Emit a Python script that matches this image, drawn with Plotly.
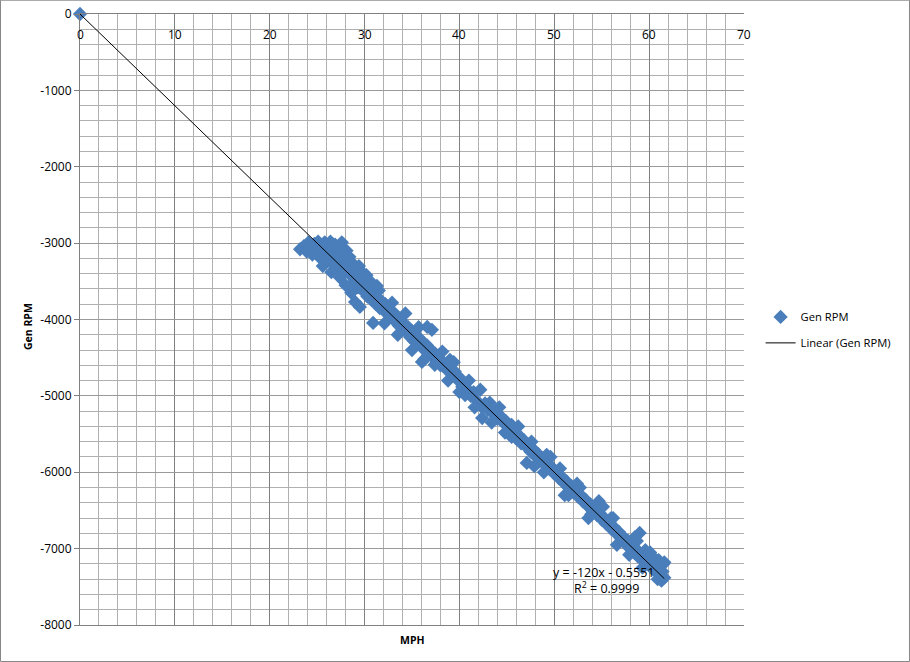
import plotly.graph_objects as go

# ---- data ----
mph = [
    0.0,
    23.2, 23.6, 23.9, 24.1, 24.3, 24.5, 24.7, 24.9, 25.1, 25.2, 25.4, 25.6, 25.8, 25.9,
    26.1, 26.3, 26.4, 26.6, 26.7, 26.9, 27.0, 27.2, 27.3, 27.5, 27.6, 27.8, 27.9, 28.1,
    28.2, 28.4, 28.5, 28.7, 28.8, 29.0, 29.1, 29.3, 29.4, 29.6, 29.8, 29.9,
    30.2, 30.6, 31.0, 31.5, 29.0, 29.5, 30.9,
    27.4, 28.0, 28.6, 26.5, 25.6,
    30.0, 30.3, 30.5, 30.8, 31.0, 31.2, 31.4, 31.6, 31.8, 32.0, 32.2, 32.4, 32.6, 32.8,
    33.0, 33.2, 33.4, 33.6, 33.8, 34.0, 34.2, 34.4, 34.6, 34.8, 35.0, 35.2, 35.4, 35.6,
    35.8, 36.0, 36.2, 36.4, 36.6, 36.8, 37.0, 37.2, 37.4, 37.6, 37.8, 38.0, 38.3, 38.6,
    38.9, 39.2, 39.5, 39.8, 40.1,
    31.3, 32.1, 32.9, 33.5, 34.3, 35.0, 35.7, 36.3, 38.2, 38.8, 39.4, 40.0,
    36.6, 37.1, 36.05, 37.4, 39.0,
    40.3, 40.6, 40.9, 41.2, 41.5, 41.8, 42.2, 42.4, 42.4, 42.7, 43.0, 43.2, 43.5, 43.8,
    44.0, 44.3, 44.6, 44.9, 45.2, 45.5,
    41.0, 41.6, 43.4, 44.2, 44.8,
    45.8, 46.0, 46.3, 46.5, 46.8, 47.0, 47.3, 47.5, 47.8, 48.0, 48.3, 48.5, 48.8, 49.0,
    49.3, 49.5, 49.8, 50.0, 50.3, 50.5, 50.8, 51.0, 51.3, 51.5, 51.8, 52.0, 52.3, 52.5,
    52.8, 53.0, 53.3, 53.5, 53.8, 54.0, 54.3, 54.5, 54.8, 55.0, 55.3, 55.5, 55.8, 56.0,
    56.3, 56.5, 56.8, 57.0,
    47.1, 59.0, 45.5, 49.2, 55.1, 47.6, 48.9, 50.6, 51.5, 52.7, 53.9, 55.1, 56.2,
    46.2, 47.9, 49.6, 51.1, 52.4, 53.6, 54.7, 56.6, 56.0,
    57.2, 57.4, 57.6, 57.8, 58.0, 58.2, 58.4, 58.6, 58.8, 59.0, 59.2, 59.4, 59.6, 59.8,
    60.0, 60.2, 60.4, 60.6, 60.8, 61.0, 61.2, 61.4, 61.5, 61.6, 61.0, 60.5, 59.6, 58.7,
    61.6, 57.9, 58.5, 59.3, 60.1, 60.9, 61.3,
]
gen_rpm = [
    0,
    -3080, -3040, -3110, -2990, -3060, -3150, -3010, -3090, -2980, -3180, -3040, -3120, -2990, -3230,
    -3070, -3160, -2980, -3270, -3100, -3020, -3200, -3320, -3060, -3150, -2990, -3250, -3380, -3100,
    -3300, -3180, -3420, -3260, -3520, -3350, -3450, -3580, -3300, -3500, -3620, -3400,
    -3420, -3500, -3560, -3620, -3770, -3835, -4045,
    -3450, -3550, -3650, -3380, -3300,
    -3560, -3700, -3620, -3750, -3680, -3800, -3720, -3850, -3760, -3880, -3800, -3920, -3870, -3960,
    -3900, -4020, -3960, -4080, -4000, -4120, -4060, -4160, -4100, -4230, -4150, -4280, -4200, -4320,
    -4250, -4360, -4300, -4400, -4340, -4450, -4400, -4500, -4440, -4560, -4500, -4600, -4560, -4650,
    -4600, -4720, -4680, -4790, -4770,
    -3560, -4050, -3780, -4200, -3920, -4400, -4100, -4520, -4420, -4800, -4560, -4950,
    -4097, -4135, -4555, -4594, -4528,
    -4880, -4990, -4920, -5000, -4950, -5060, -4920, -5150, -5290, -5100, -5180, -5090, -5230, -5200,
    -5300, -5260, -5350, -5330, -5410, -5380,
    -4800, -5150, -5350, -5150, -5480,
    -5450, -5560, -5520, -5620, -5580, -5660, -5640, -5730, -5700, -5790, -5760, -5850, -5820, -5900,
    -5880, -5960, -5940, -6020, -6000, -6080, -6060, -6140, -6120, -6200, -6180, -6260, -6240, -6320,
    -6300, -6380, -6360, -6440, -6420, -6500, -6480, -6560, -6540, -6620, -6600, -6680, -6660, -6740,
    -6720, -6800, -6780, -6860,
    -5878, -6795, -5537, -5772, -6454, -5600, -6000, -5950, -6300, -6200, -6550, -6450, -6600,
    -5400, -5920, -5800, -6300, -6150, -6600, -6380, -6950, -6600,
    -6900, -6860, -6950, -6900, -7000, -6960, -7050, -7000, -7100, -7060, -7140, -7090, -7180, -7140,
    -7220, -7180, -7270, -7230, -7310, -7270, -7350, -7300, -7200, -7380, -7150, -7120, -7020, -6900,
    -7180, -7080, -6850, -7250, -7050, -7400, -7420,
]

trend_slope = -120.0
trend_intercept = -0.5551
trend_r2 = 0.9999

x_tick_vals = [0, 10, 20, 30, 40, 50, 60, 70]
x_tick_labels = ["0", "10", "20", "30", "40", "50", "60", "70"]
y_tick_vals = [0, -1000, -2000, -3000, -4000, -5000, -6000, -7000, -8000]
y_tick_labels = ["0", "-1000", "-2000", "-3000", "-4000", "-5000", "-6000", "-7000", "-8000"]

series_name = "Gen RPM"
trend_name = "Linear (Gen RPM)"
eq_line1 = "y = -120x - 0.5551"
eq_line2 = "R<sup>2</sup> = 0.9999"

# ---- figure ----
FONT = "Open Sans"
BLUE = "#4a7ebb"

trend_x = [0.0, max(mph)]
trend_y = [trend_slope * v + trend_intercept for v in trend_x]

fig = go.Figure()
fig.add_trace(go.Scatter(
    x=mph, y=gen_rpm, mode="markers", name=series_name,
    marker=dict(symbol="diamond", size=11, color=BLUE, line=dict(width=0)),
    cliponaxis=False, legendgroup="a",
))
fig.add_trace(go.Scatter(
    x=trend_x, y=trend_y, mode="lines", name=trend_name,
    line=dict(color="black", width=1), legendgroup="b",
))

fig.update_layout(
    width=910, height=662, autosize=False,
    margin=dict(l=80, r=166, t=14, b=37),
    paper_bgcolor="white", plot_bgcolor="white",
    font=dict(family=FONT, size=12, color="black"),
    showlegend=True,
    legend=dict(x=1.025, y=0.483, xanchor="left", yanchor="middle",
                font=dict(family=FONT, size=11.2, color="black"),
                borderwidth=0, itemwidth=30,
                tracegroupgap=7, traceorder="grouped", bgcolor="rgba(0,0,0,0)"),
    xaxis=dict(
        range=[0, 70], tickvals=x_tick_vals, showticklabels=False, ticks="",
        showgrid=True, gridcolor="#808080", gridwidth=1,
        minor=dict(dtick=2, showgrid=True, gridcolor="#b0b0b0", gridwidth=1),
        showline=True, linecolor="#808080", linewidth=1, mirror=True,
        zeroline=False, fixedrange=True, automargin=False,
    ),
    yaxis=dict(
        range=[-8000, 0], tickvals=y_tick_vals, ticktext=y_tick_labels,
        ticks="outside", ticklen=5, tickcolor="#808080",
        showgrid=True, gridcolor="#9a9a9a", gridwidth=1,
        minor=dict(dtick=200, showgrid=True, gridcolor="#b0b0b0", gridwidth=1),
        showline=True, linecolor="#808080", linewidth=1,
        zeroline=False, fixedrange=True, automargin=False,
        tickfont=dict(family=FONT, size=12, color="black"),
    ),
)

# x tick labels (axis crosses at y = 0, labels sit just below the top edge)
for xv, lab in zip(x_tick_vals, x_tick_labels):
    fig.add_annotation(
        xref="x", yref="paper", x=xv, y=1, yshift=-10, text=lab,
        showarrow=False, xanchor="center", yanchor="top",
        font=dict(family=FONT, size=12, color="black"),
    )

fig.add_annotation(
    xref="paper", yref="paper", x=0.5, y=-0.025, text="<b>MPH</b>",
    showarrow=False, xanchor="center", yanchor="middle",
    font=dict(family=FONT, size=10.5, color="black"),
)
fig.add_annotation(
    xref="paper", yref="paper", x=-0.078, y=0.488, text="<b>Gen RPM</b>",
    showarrow=False, xanchor="center", yanchor="middle", textangle=-90,
    font=dict(family=FONT, size=10.5, color="black"),
)
fig.add_annotation(
    x=55.2, y=-7306, text=eq_line1,
    showarrow=False, xanchor="center", yanchor="middle",
    font=dict(family=FONT, size=12.5, color="black"),
)
fig.add_annotation(
    x=55.5, y=-7515, text=eq_line2,
    showarrow=False, xanchor="center", yanchor="middle",
    font=dict(family=FONT, size=12.5, color="black"),
)

# outer chart border
fig.add_shape(type="rect", xref="paper", yref="paper",
              x0=-0.1197, x1=1.2492, y0=-0.0598, y1=1.0226,
              line=dict(color="#868686", width=1), fillcolor="rgba(0,0,0,0)",
              layer="above")

fig.write_html(
    "out.html",
    config={"displayModeBar": False, "responsive": False},
    post_script="document.body.style.margin='0';document.body.style.overflow='hidden';"
                "document.documentElement.style.overflow='hidden';",
)
